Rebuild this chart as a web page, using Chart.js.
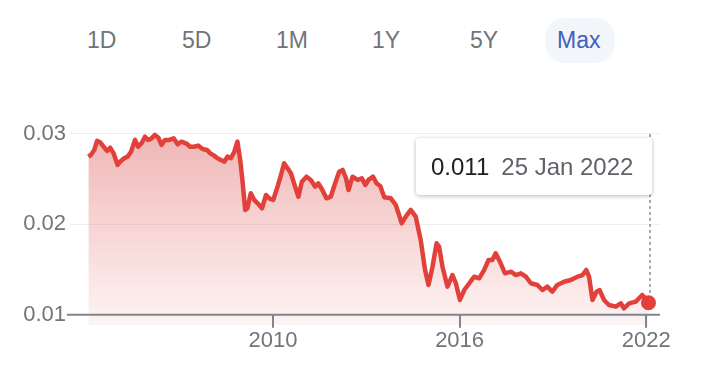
<!DOCTYPE html>
<html>
<head>
<meta charset="utf-8">
<script src="https://cdn.jsdelivr.net/npm/chart.js@4.4.0/dist/chart.umd.min.js"></script>
<style>
  html, body { margin: 0; padding: 0; background: #fff; }
  body { width: 706px; height: 376px; position: relative; overflow: hidden; font-family: "Liberation Sans", Arial, sans-serif; }
  .pill { position: absolute; left: 545px; top: 18px; width: 70px; height: 45px; border-radius: 20px; background: #f2f5f9; }
  .range { position: absolute; top: 29px; font-size: 23px; line-height: 23px; color: #70757a; }
  .range.active { color: #3e5fc0; }
  #chart { position: absolute; left: 0; top: 0; }
  .tip { position: absolute; left: 416px; top: 138px; width: 236px; height: 57px; box-sizing: border-box;
         padding-left: 15px; background: #fff; border-radius: 4px; box-shadow: 0 1px 4px rgba(0,0,0,.28);
         display: flex; align-items: center; font-size: 24px; }
  .tip .val { color: #202124; }
  .tip .date { color: #5f6368; margin-left: 12px; }
</style>
</head>
<body>
<div class="pill"></div>
<span class="range" style="left:87px">1D</span>
<span class="range" style="left:182px">5D</span>
<span class="range" style="left:276px">1M</span>
<span class="range" style="left:372px">1Y</span>
<span class="range" style="left:470px">5Y</span>
<span class="range active" style="left:557px">Max</span>
<canvas id="chart" width="706" height="376"></canvas>
<div class="tip"><span class="val">0.011</span><span class="date">25 Jan 2022</span></div>

<script>
(function () {
  'use strict';

  // Values (year as decimal, rate)
  var years = [
    2004.07, 2004.15, 2004.26, 2004.35, 2004.45, 2004.56, 2004.67, 2004.77, 2004.88, 2005.01,
    2005.09, 2005.22, 2005.33, 2005.44, 2005.57, 2005.67, 2005.78, 2005.89, 2005.99, 2006.08,
    2006.21, 2006.32, 2006.42, 2006.53, 2006.67, 2006.81, 2006.94, 2007.06, 2007.21, 2007.34,
    2007.47, 2007.60, 2007.74, 2007.88, 2007.99, 2008.11, 2008.22, 2008.33, 2008.44, 2008.54,
    2008.65, 2008.76, 2008.86, 2008.95, 2009.02, 2009.11, 2009.18, 2009.29, 2009.40, 2009.51,
    2009.65, 2009.78, 2009.88, 2010.01, 2010.15, 2010.26, 2010.36, 2010.47, 2010.58, 2010.68,
    2010.82, 2010.93, 2011.08, 2011.22, 2011.36, 2011.46, 2011.59, 2011.72, 2011.86, 2012.00,
    2012.13, 2012.24, 2012.35, 2012.43, 2012.56, 2012.72, 2012.86, 2012.97, 2013.07, 2013.22,
    2013.33, 2013.45, 2013.58, 2013.79, 2013.95, 2014.14, 2014.27, 2014.43, 2014.59, 2014.75,
    2014.89, 2015.00, 2015.13, 2015.26, 2015.34, 2015.45, 2015.61, 2015.77, 2015.88, 2016.01,
    2016.15, 2016.31, 2016.47, 2016.63, 2016.79, 2016.93, 2017.05, 2017.16, 2017.32, 2017.46,
    2017.65, 2017.81, 2017.97, 2018.13, 2018.29, 2018.50, 2018.66, 2018.82, 2018.98, 2019.14,
    2019.36, 2019.57, 2019.79, 2019.95, 2020.07, 2020.16, 2020.27, 2020.40, 2020.50, 2020.64,
    2020.80, 2021.02, 2021.18, 2021.28, 2021.45, 2021.66, 2021.87, 2021.97, 2022.07
  ];
  var rates = [
    0.02749, 0.02768, 0.02823, 0.02923, 0.02908, 0.02859, 0.02812, 0.02848, 0.02786, 0.02657,
    0.02693, 0.02731, 0.02749, 0.02804, 0.02934, 0.02859, 0.02897, 0.02970, 0.02934, 0.02945,
    0.02989, 0.02959, 0.02878, 0.02934, 0.02934, 0.02952, 0.02886, 0.02915, 0.02897, 0.02859,
    0.02859, 0.02871, 0.02834, 0.02823, 0.02786, 0.02760, 0.02731, 0.02712, 0.02693, 0.02749,
    0.02731, 0.02804, 0.02915, 0.02712, 0.02491, 0.02159, 0.02178, 0.02344, 0.02270, 0.02233,
    0.02178, 0.02325, 0.02288, 0.02270, 0.02417, 0.02546, 0.02676, 0.02620, 0.02565, 0.02454,
    0.02306, 0.02472, 0.02527, 0.02491, 0.02417, 0.02454, 0.02380, 0.02288, 0.02306, 0.02454,
    0.02583, 0.02602, 0.02510, 0.02380, 0.02527, 0.02491, 0.02510, 0.02436, 0.02491, 0.02527,
    0.02454, 0.02424, 0.02299, 0.02288, 0.02214, 0.02012, 0.02085, 0.02159, 0.02085, 0.01827,
    0.01495, 0.01329, 0.01531, 0.01790, 0.01753, 0.01531, 0.01310, 0.01439, 0.01348, 0.01163,
    0.01273, 0.01348, 0.01421, 0.01403, 0.01495, 0.01605, 0.01605, 0.01680, 0.01569, 0.01458,
    0.01476, 0.01439, 0.01458, 0.01421, 0.01348, 0.01329, 0.01273, 0.01310, 0.01255, 0.01329,
    0.01365, 0.01384, 0.01421, 0.01439, 0.01495, 0.01421, 0.01163, 0.01255, 0.01273, 0.01163,
    0.01107, 0.01089, 0.01126, 0.01071, 0.01126, 0.01144, 0.01218, 0.01182, 0.01133
  ];
  var yTicks = [0.01, 0.02, 0.03];
  var xTicks = [2010, 2016, 2022];

  var red = '#e2403a';
  var gray = '#70757a';
  var last = years.length - 1;
  var font = { family: "'Liberation Sans', Arial, sans-serif", size: 22, lineHeight: 1 };

  // Baseline axis, tick marks and dashed marker line
  var axisPlugin = {
    id: 'axisLine',
    afterDatasetsDraw: function (chart) {
      var c = chart.ctx;
      var xs = chart.scales.x;
      var ys = chart.scales.y;
      var area = chart.chartArea;
      var y0 = ys.getPixelForValue(yTicks[0]);
      c.save();
      c.strokeStyle = '#80868b';
      c.lineWidth = 2;
      c.beginPath();
      c.moveTo(area.left - 3, y0);
      c.lineTo(area.right, y0);
      xTicks.forEach(function (t) {
        var x = Math.round(xs.getPixelForValue(t));
        c.moveTo(x, y0);
        c.lineTo(x, y0 + 13);
      });
      c.stroke();

      var xl = xs.getPixelForValue(years[last]) + 1.5;
      c.setLineDash([3, 3]);
      c.lineWidth = 1.5;
      c.strokeStyle = '#8a8e93';
      c.beginPath();
      c.moveTo(xl, ys.getPixelForValue(yTicks[2]));
      c.lineTo(xl, ys.getPixelForValue(rates[last]) - 8);
      c.stroke();
      c.restore();
    }
  };

  new Chart(document.getElementById('chart'), {
    type: 'line',
    data: {
      datasets: [{
        data: years.map(function (y, i) { return { x: y, y: rates[i] }; }),
        borderColor: red,
        borderWidth: 4.5,
        borderJoinStyle: 'round',
        tension: 0,
        fill: 'start',
        backgroundColor: function (ctx) {
          var area = ctx.chart.chartArea;
          if (!area) return 'rgba(226,64,58,0.2)';
          var g = ctx.chart.ctx.createLinearGradient(0, area.top, 0, area.bottom);
          g.addColorStop(0, 'rgba(210,60,60,0.38)');
          g.addColorStop(1, 'rgba(226,64,58,0.06)');
          return g;
        },
        pointRadius: function (ctx) { return ctx.dataIndex === last ? 7.5 : 0; },
        pointBackgroundColor: red,
        pointBorderWidth: 0,
        clip: false
      }]
    },
    options: {
      responsive: false,
      animation: false,
      events: [],
      layout: { padding: { top: 129, right: 46, left: 0, bottom: 0 } },
      plugins: { legend: { display: false }, tooltip: { enabled: false } },
      scales: {
        x: {
          type: 'linear',
          min: 2003.48,
          max: 2022.44,
          afterBuildTicks: function (s) { s.ticks = xTicks.map(function (v) { return { value: v }; }); },
          afterFit: function (s) { s.height = 51; },
          grid: { display: false, drawTicks: false },
          border: { display: false },
          ticks: { color: gray, font: font, padding: 5, maxRotation: 0, autoSkip: false,
                   callback: function (v) { return String(v); } }
        },
        y: {
          min: 0.00886,
          max: 0.03055,
          afterBuildTicks: function (s) { s.ticks = yTicks.map(function (v) { return { value: v }; }); },
          afterFit: function (s) { s.width = 70; },
          grid: {
            drawTicks: false,
            color: function (ctx) { return ctx.tick && ctx.tick.value === yTicks[0] ? 'rgba(0,0,0,0)' : '#efefef'; }
          },
          border: { display: false },
          ticks: { color: gray, font: font, padding: 4,
                   callback: function (v) { return v.toFixed(2); } }
        }
      }
    },
    plugins: [axisPlugin]
  });
})();
</script>
</body>
</html>
